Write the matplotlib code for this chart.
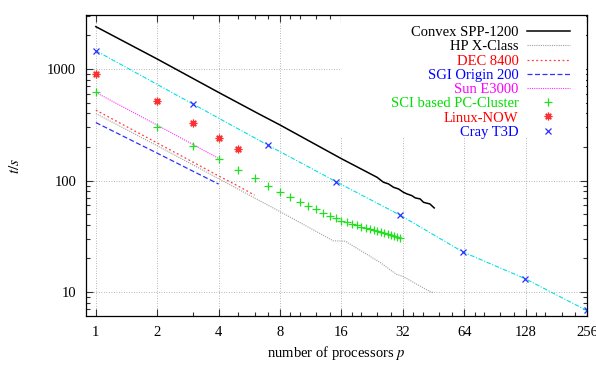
import matplotlib
matplotlib.use('Agg')
import matplotlib.pyplot as plt
import matplotlib.ticker as ticker
from matplotlib.patches import Rectangle

plt.rcParams['font.family'] = ['Liberation Serif', 'DejaVu Serif']
plt.rcParams['mathtext.fontset'] = 'stix'

# --- data ---
convex_p = [1, 2, 4, 6.2, 8, 16, 23.9, 25.7, 27.2, 28.8, 30.5, 32.2, 33.5, 35.4,
            36.8, 38.9, 40.4, 43.4, 45.6]
convex_t = [2400, 1230, 617, 402, 315, 157, 107, 96.6, 93.3, 87, 84, 78.5, 75.9,
            73.3, 69.9, 68.4, 63.8, 61.7, 56.8]

hp_p = [1, 2, 4, 8, 14.6, 16.7, 24.8, 29.8, 32, 43.5, 45.1]
hp_t = [399, 205, 104, 52.6, 28.8, 28.6, 18.4, 14.4, 13.8, 10.1, 9.9]

dec_p = [1, 2, 3, 4, 5, 6]
dec_t = [428, 217, 146, 110, 89, 74]

sgi_p = [1, 2, 3, 4]
sgi_t = [331, 176, 121, 93]

sun_p = [1, 2, 3, 4]
sun_t = [617, 314, 210, 158]

sci_p = list(range(1, 32))
sci_t = [617, 302, 206, 155, 125, 105, 89.6, 79.6, 71.8, 64.7, 59.6, 55.1, 51.2,
         48.4, 46.2, 43.6, 42.2, 41.0, 39.8, 38.7, 37.7, 36.8, 36.0, 35.2, 34.5,
         33.8, 33.2, 32.6, 32.0, 31.4, 30.8]

linux_p = [1, 2, 3, 4, 5]
linux_t = [901, 518, 331, 243, 193]

cray_p = [1, 3, 7, 15, 31, 63, 127, 255]
cray_t = [1460, 484, 207, 98, 49, 22.9, 13.2, 6.84]

xticks = [1, 2, 4, 8, 16, 32, 64, 128, 256]
xminor = [3, 5, 6, 7, 9, 10, 12, 14, 18, 20, 24, 28, 36, 40, 48, 56,
          72, 80, 96, 112, 144, 160, 192, 224]

fig = plt.figure(figsize=(5.96, 3.76), dpi=100)
ax = fig.add_axes([0.1443, 0.1596, 0.8407, 0.8004])
ax.set_xscale('log', base=2)
ax.set_yscale('log')
ax.set_xlim(0.895, 256)
ax.set_ylim(6.1, 3050)

ax.set_axisbelow(True)
ax.grid(True, which='major', linestyle=(0, (1, 2)), color='#a0a0a0', linewidth=0.6)
# key box hides the grid behind it
ax.add_patch(Rectangle((0.508, 0.592), 0.49, 0.405, transform=ax.transAxes,
                       facecolor='white', edgecolor='none', zorder=0.8))

ax.plot(convex_p, convex_t, color='black', lw=1.1, label='Convex SPP-1200')
ax.plot(hp_p, hp_t, color='#a0a0a0', lw=0.8, ls=(0, (1, 1)), label='HP X-Class')
ax.plot(dec_p, dec_t, color='#ff4040', lw=0.9, ls=(0, (1.5, 2)), label='DEC 8400')
ax.plot(sgi_p, sgi_t, color='#3030ff', lw=0.9, ls=(0, (4, 2)), label='SGI Origin 200')
ax.plot(sun_p, sun_t, color='#ff30ff', lw=0.8, ls=(0, (1, 1)), label='Sun E3000')
ax.plot(sci_p, sci_t, ls='none', marker='+', ms=6, mew=0.9, color='#20e020',
        label='SCI based PC-Cluster')
ax.plot(linux_p, linux_t, ls='none', marker=(8, 2, 0), ms=5.5, mew=0.9, color='#ff3030',
        label='Linux-NOW')
ax.plot(cray_p, cray_t, color='#00e0e0', lw=0.8, ls=(0, (4, 1.5, 1, 1.5)))
ax.plot(cray_p, cray_t, ls='none', marker='x', ms=5, mew=0.9, color='#3030ff',
        label='Cray T3D')

ax.xaxis.set_major_locator(ticker.FixedLocator(xticks))
ax.xaxis.set_major_formatter(ticker.FixedFormatter([str(v) for v in xticks]))
ax.xaxis.set_minor_locator(ticker.FixedLocator(xminor))
ax.xaxis.set_minor_formatter(ticker.NullFormatter())
ax.yaxis.set_major_locator(ticker.FixedLocator([10, 100, 1000]))
ax.yaxis.set_major_formatter(ticker.FixedFormatter(['10', '100', '1000']))
ax.yaxis.set_minor_locator(ticker.LogLocator(base=10, subs=range(2, 10)))
ax.yaxis.set_minor_formatter(ticker.NullFormatter())

ax.tick_params(which='both', direction='in', top=True, right=True,
               labelsize=10.5, color='#333333')
ax.tick_params(which='major', length=5, width=0.8, pad=7)
ax.tick_params(which='minor', length=3, width=0.8)
for s in ax.spines.values():
    s.set_linewidth(0.9)

ax.set_xlabel('number of processors $p$', fontsize=10.5, labelpad=4)
ax.set_ylabel('$t/s$', fontsize=11, labelpad=18)

colors = ['black', 'black', '#ff0000', '#0000ff', '#ff00ff', '#00e000', '#ff0000', '#0000ff']
leg = ax.legend(loc='upper right', bbox_to_anchor=(0.987, 1.0), markerfirst=False,
                frameon=False, fontsize=10.5, handlelength=2.9, handletextpad=0.6,
                labelspacing=0.07, borderpad=0.25)
for t, c in zip(leg.get_texts(), colors):
    t.set_color(c)

fig.savefig('out.png', dpi=100)
